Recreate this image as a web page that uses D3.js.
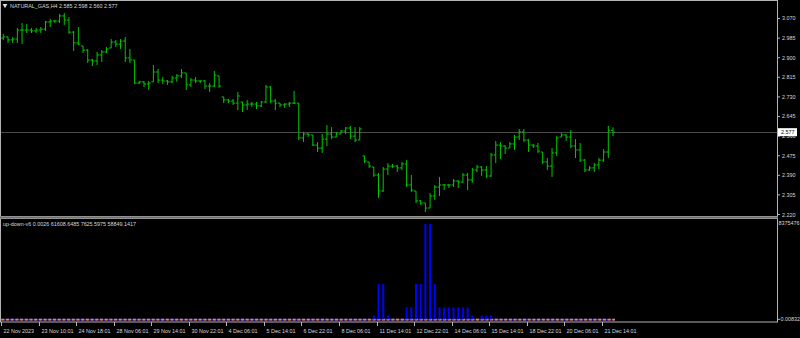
<!doctype html>
<html>
<head>
<meta charset="utf-8">
<title>NATURAL_GAS,H4</title>
<script src="https://cdn.jsdelivr.net/npm/d3@7/dist/d3.min.js"></script>
<style>
  html, body { margin: 0; padding: 0; background: #000; }
  svg { display: block; }
  text { font-family: "Liberation Sans", Arial, sans-serif; font-size: 5.4px; fill: #d8d8d8; }
</style>
</head>
<body>
<svg id="chart" width="800" height="338"></svg>
<script>
// H4 bars, oldest first
var opens = [2.985,2.990,2.977,2.981,3.020,3.020,3.020,3.016,3.020,3.024,3.055,3.059,3.059,3.081,3.063,3.011,2.964,2.951,2.933,2.890,
  2.886,2.912,2.925,2.942,2.968,2.959,2.972,2.899,2.890,2.790,2.795,2.786,2.795,2.838,2.803,2.799,2.795,2.812,2.821,2.834,
  2.782,2.803,2.799,2.799,2.777,2.777,2.821,2.730,2.717,2.712,2.703,2.708,2.695,2.699,2.699,2.691,2.708,2.773,2.712,2.703,
  2.695,2.699,2.703,2.703,2.552,2.569,2.565,2.521,2.508,2.547,2.569,2.556,2.569,2.582,2.595,2.560,2.543,2.474,2.448,2.426,
  2.391,2.322,2.417,2.430,2.430,2.422,2.439,2.348,2.322,2.279,2.270,2.248,2.300,2.339,2.348,2.348,2.348,2.365,2.361,2.391,
  2.370,2.413,2.426,2.413,2.387,2.478,2.521,2.517,2.508,2.526,2.556,2.578,2.543,2.521,2.517,2.491,2.448,2.430,2.487,2.556,
  2.565,2.556,2.517,2.500,2.456,2.413,2.422,2.435,2.456,2.491,2.585];
var highs = [3.003,2.990,2.990,3.029,3.050,3.046,3.029,3.029,3.033,3.059,3.068,3.063,3.090,3.094,3.076,3.016,3.033,2.951,2.938,2.894,
  2.925,2.933,2.946,2.981,2.977,2.981,2.990,2.938,2.890,2.799,2.799,2.799,2.868,2.851,2.816,2.803,2.821,2.829,2.851,2.834,
  2.812,2.816,2.803,2.803,2.790,2.842,2.821,2.730,2.721,2.721,2.751,2.708,2.717,2.708,2.708,2.712,2.782,2.777,2.721,2.703,
  2.703,2.708,2.756,2.703,2.578,2.573,2.565,2.534,2.569,2.608,2.599,2.578,2.586,2.599,2.604,2.599,2.599,2.474,2.448,2.426,
  2.400,2.426,2.443,2.439,2.435,2.448,2.456,2.391,2.322,2.283,2.270,2.313,2.348,2.383,2.352,2.352,2.374,2.370,2.400,2.400,
  2.422,2.435,2.430,2.430,2.487,2.539,2.534,2.521,2.534,2.565,2.591,2.591,2.547,2.526,2.530,2.491,2.465,2.508,2.560,2.573,
  2.569,2.586,2.547,2.530,2.461,2.430,2.443,2.465,2.504,2.604,2.598];
var lows = [2.977,2.964,2.964,2.964,2.959,3.007,3.007,3.007,3.007,3.016,3.033,3.050,3.050,3.042,3.003,2.929,2.955,2.920,2.877,2.864,
  2.868,2.881,2.920,2.942,2.946,2.938,2.881,2.877,2.786,2.786,2.773,2.760,2.795,2.790,2.786,2.782,2.790,2.795,2.812,2.760,
  2.773,2.790,2.790,2.764,2.751,2.773,2.769,2.703,2.703,2.695,2.673,2.664,2.673,2.686,2.677,2.686,2.703,2.703,2.673,2.686,
  2.682,2.686,2.699,2.543,2.534,2.556,2.517,2.491,2.487,2.517,2.547,2.556,2.569,2.569,2.547,2.534,2.543,2.443,2.422,2.383,
  2.292,2.318,2.391,2.422,2.404,2.413,2.339,2.318,2.270,2.261,2.231,2.248,2.283,2.300,2.326,2.335,2.339,2.335,2.357,2.326,
  2.357,2.404,2.387,2.378,2.383,2.443,2.461,2.482,2.508,2.500,2.543,2.534,2.491,2.508,2.487,2.439,2.413,2.383,2.474,2.556,
  2.539,2.508,2.465,2.448,2.404,2.409,2.404,2.417,2.448,2.465,2.560];
var closes = [2.990,2.977,2.981,3.020,3.020,3.020,3.016,3.020,3.024,3.055,3.059,3.059,3.081,3.063,3.011,2.964,2.959,2.933,2.890,2.886,
  2.912,2.925,2.938,2.968,2.959,2.972,2.899,2.890,2.790,2.795,2.786,2.790,2.838,2.803,2.799,2.795,2.812,2.821,2.834,2.782,
  2.803,2.799,2.799,2.777,2.777,2.825,2.777,2.717,2.712,2.703,2.734,2.695,2.699,2.699,2.691,2.708,2.773,2.712,2.703,2.695,
  2.699,2.703,2.703,2.552,2.569,2.565,2.521,2.508,2.547,2.569,2.556,2.569,2.582,2.595,2.560,2.543,2.591,2.452,2.430,2.391,
  2.322,2.417,2.430,2.430,2.422,2.439,2.348,2.326,2.279,2.270,2.248,2.300,2.339,2.348,2.348,2.348,2.365,2.361,2.391,2.370,
  2.413,2.426,2.413,2.387,2.478,2.521,2.517,2.508,2.526,2.556,2.578,2.543,2.521,2.517,2.495,2.448,2.430,2.487,2.552,2.565,
  2.556,2.517,2.500,2.456,2.413,2.422,2.435,2.456,2.491,2.585,2.577];

var priceTicks = [3.070, 2.985, 2.900, 2.815, 2.730, 2.645, 2.560, 2.475, 2.390, 2.305, 2.220];
var lastPrice = 2.577;

var timeLabels = ["22 Nov 2023", "23 Nov 10:01", "24 Nov 18:01", "28 Nov 06:01", "29 Nov 14:01", "30 Nov 22:01",
  "4 Dec 06:01", "5 Dec 14:01", "6 Dec 22:01", "8 Dec 06:01", "11 Dec 14:01", "12 Dec 22:01", "14 Dec 06:01",
  "15 Dec 14:01", "18 Dec 22:01", "20 Dec 06:01", "21 Dec 14:01"];
var timeLabelIdx = [0, 8, 16, 24, 32, 40, 48, 56, 64, 72, 80, 88, 96, 104, 112, 120, 128];

// up-down-v6 histogram (non zero bars only)
var volIdx = [79, 80, 81, 82, 86, 87, 88, 89, 90, 91, 92, 93, 94, 95, 96, 97, 98, 99, 100, 102, 103, 104];
var volVals = [330000, 3100000, 3100000, 330000, 1050000, 1050000, 3100000, 3100000, 8375476, 8375476, 3100000,
  1050000, 1050000, 1050000, 1050000, 1050000, 1050000, 1050000, 330000, 330000, 330000, 330000];
var indMax = 8375476;

var title = "NATURAL_GAS,H4  2.585 2.598 2.560 2.577";
var indTitle = "up-down-v6 0.0026 61608.6485 7625.5975 58849.1417";

var svg = d3.select('#chart');
var n = closes.length;
var axisX = 777;
var main = {top: 1, bottom: 216};
var sub = {top: 219, bottom: 322};

var x = d3.scaleLinear().domain([0, n - 1]).range([3.3, 613]);
var y = d3.scaleLinear().domain([2.2135, 3.1415]).range([main.bottom, 2]);
var yInd = d3.scaleLinear().domain([0, indMax]).range([319.3, 224]);

svg.append('rect').attr('width', 800).attr('height', 338).attr('fill', '#000');

// current price line
svg.append('line')
  .attr('x1', 1).attr('x2', axisX)
  .attr('y1', Math.round(y(lastPrice)) + 0.5).attr('y2', Math.round(y(lastPrice)) + 0.5)
  .attr('stroke', '#4a4a4a').attr('stroke-width', 1);

// bars
var bars = svg.append('g').attr('stroke', '#00c800').attr('stroke-width', 1);
d3.range(n).forEach(function(i) {
  var cx = x(i);
  bars.append('line').attr('x1', cx).attr('x2', cx).attr('y1', y(highs[i])).attr('y2', y(lows[i]));
  bars.append('line').attr('x1', cx - 2).attr('x2', cx).attr('y1', y(opens[i])).attr('y2', y(opens[i]));
  bars.append('line').attr('x1', cx).attr('x2', cx + 2).attr('y1', y(closes[i])).attr('y2', y(closes[i]));
});

// indicator
svg.append('line')
  .attr('x1', x(0) - 2).attr('x2', x(n - 1) + 2)
  .attr('y1', yInd(0) + 0.3).attr('y2', yInd(0) + 0.3)
  .attr('stroke', '#2020ff').attr('stroke-width', 1.6);
svg.append('line')
  .attr('x1', x(0) - 2).attr('x2', x(n - 1) + 2)
  .attr('y1', yInd(0) + 0.3).attr('y2', yInd(0) + 0.3)
  .attr('stroke', '#ff8c00').attr('stroke-width', 1.6)
  .attr('stroke-dasharray', '3,1.7');
svg.append('g').selectAll('rect')
  .data(volIdx)
  .enter().append('rect')
  .attr('x', function(d) { return x(d) - 1; })
  .attr('width', 2)
  .attr('y', function(d, i) { return yInd(volVals[i]); })
  .attr('height', function(d, i) { return yInd(0) - yInd(volVals[i]); })
  .attr('fill', '#0000ff');

// frames
var frame = svg.append('g').attr('fill', 'none').attr('stroke', '#b4b4b4').attr('stroke-width', 1);
frame.append('rect').attr('x', 0.5).attr('y', main.top - 0.5).attr('width', axisX).attr('height', main.bottom - main.top + 1);
frame.append('rect').attr('x', 0.5).attr('y', sub.top - 0.5).attr('width', axisX).attr('height', sub.bottom - sub.top + 0.5);
svg.append('rect').attr('x', 0).attr('y', main.bottom + 0.5).attr('width', axisX + 1).attr('height', 2).attr('fill', '#707070');

// price axis
var pa = svg.append('g');
priceTicks.forEach(function(p) {
  var py = y(p);
  pa.append('line').attr('x1', axisX).attr('x2', axisX + 3).attr('y1', py).attr('y2', py).attr('stroke', '#b4b4b4');
  pa.append('text').attr('x', axisX + 5).attr('y', py + 2).text(p.toFixed(3));
});
var ly = y(lastPrice);
svg.append('rect').attr('x', axisX + 1).attr('y', ly - 4).attr('width', 19).attr('height', 8).attr('fill', '#fff');
svg.append('text').attr('x', axisX + 4).attr('y', ly + 2).style('fill', '#000').text(lastPrice.toFixed(3));

// indicator scale
svg.append('text').attr('x', axisX + 1.5).attr('y', yInd(indMax) + 0.5).text(indMax);
svg.append('line').attr('x1', axisX).attr('x2', axisX + 3).attr('y1', yInd(0)).attr('y2', yInd(0)).attr('stroke', '#b4b4b4');
svg.append('text').attr('x', axisX + 3.5).attr('y', yInd(0) + 2).text('0.00832');

// time axis
var ta = svg.append('g');
timeLabelIdx.forEach(function(idx, k) {
  var tx = Math.round(x(idx)) - 1.5;
  ta.append('line').attr('x1', tx).attr('x2', tx).attr('y1', sub.bottom).attr('y2', sub.bottom + 4).attr('stroke', '#b4b4b4');
  ta.append('text').attr('x', tx + 2).attr('y', 332.5).text(timeLabels[k]);
});

// titles
svg.append('path').attr('d', d3.symbol().type(d3.symbolTriangle).size(10)())
  .attr('transform', 'translate(5,5.5) rotate(180)').attr('fill', '#e0e0e0');
svg.append('text').attr('x', 10).attr('y', 8).text(title);
svg.append('text').attr('x', 3).attr('y', 226).text(indTitle);
</script>
</body>
</html>
